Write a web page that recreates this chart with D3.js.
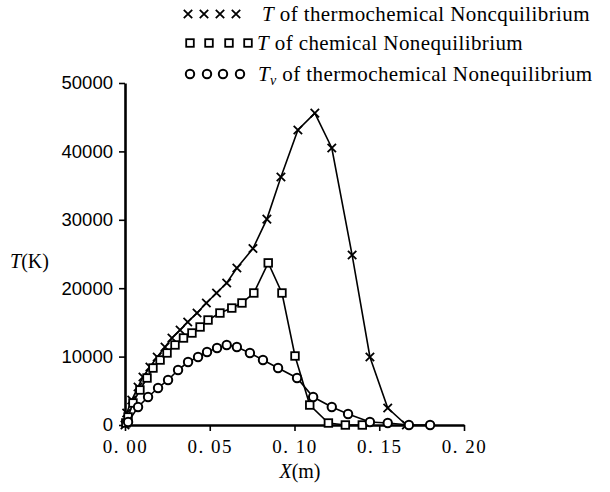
<!DOCTYPE html>
<html>
<head>
<meta charset="utf-8">
<script src="https://cdn.jsdelivr.net/npm/d3@7"></script>
<style>
  body { margin: 0; background: #fff; }
  svg { display: block; }
</style>
</head>
<body>
<svg id="chart" width="610" height="492"></svg>
<script>
// ---- data (X in m, T in K) ----
const crossX = [0.000, 0.001, 0.004, 0.0077, 0.0106, 0.0147, 0.019, 0.0236, 0.0277, 0.0325, 0.037, 0.0425, 0.048, 0.054, 0.060, 0.066, 0.0755, 0.0837, 0.092, 0.102, 0.112, 0.122, 0.134, 0.1445, 0.155, 0.166];
const crossT = [0, 1750, 3650, 5560, 7020, 8480, 9940, 11400, 12720, 13890, 15060, 16370, 17840, 19300, 20760, 22950, 25800, 30100, 36260, 43130, 45600, 40500, 24850, 9940, 2490, 0];

const squareX = [0.0005, 0.0018, 0.0047, 0.0088, 0.013, 0.0165, 0.0207, 0.0248, 0.0295, 0.0345, 0.0395, 0.0443, 0.049, 0.056, 0.063, 0.069, 0.076, 0.0845, 0.0926, 0.1003, 0.109, 0.120, 0.130, 0.140];
const squareT = [300, 1170, 3220, 5120, 6870, 8330, 9500, 10530, 11700, 12720, 13450, 14330, 15350, 16370, 17100, 17840, 19300, 23700, 19300, 10090, 2920, 290, 0, 0];

const circleX = [0.0018, 0.0077, 0.0136, 0.0195, 0.0254, 0.0313, 0.0372, 0.0431, 0.0484, 0.0543, 0.060, 0.066, 0.0737, 0.0814, 0.0903, 0.1015, 0.111, 0.122, 0.1316, 0.1445, 0.155, 0.1675, 0.180];
const circleT = [440, 2630, 4090, 5410, 6580, 8040, 9210, 9940, 10670, 11260, 11700, 11400, 10530, 9500, 8330, 6870, 4090, 2630, 1610, 440, 290, 0, 0];

const xTicks = [0, 0.05, 0.10, 0.15, 0.20];
const xTickLabels = ["0. 00", "0. 05", "0. 10", "0. 15", "0. 20"];
const yTicks = [0, 10000, 20000, 30000, 40000, 50000];
const legendLabels = [" of thermochemical Noncquilibrium", " of chemical Nonequilibrium", " of thermochemical Nonequilibrium"];

// ---- layout ----
const svg = d3.select("#chart");
const x = d3.scaleLinear().domain([0, 0.2]).range([125, 464]);
const y = d3.scaleLinear().domain([0, 50000]).range([425, 83]);

const serif = "'Liberation Serif', 'DejaVu Serif', serif";
const sans = "'Liberation Sans', Arial, sans-serif";

// axes
const yAxis = svg.append("g").attr("transform", "translate(125,0)")
  .call(d3.axisLeft(y).tickValues(yTicks).tickFormat(d3.format("d")).tickSize(6).tickSizeOuter(0).tickPadding(6));
const xAxis = svg.append("g").attr("transform", "translate(0,425)")
  .call(d3.axisBottom(x).tickValues(xTicks).tickFormat((d, i) => xTickLabels[i]).tickSize(6).tickSizeOuter(0).tickPadding(9));

[yAxis, xAxis].forEach(g => {
  g.select(".domain").attr("stroke", "#000").attr("stroke-width", 2.6);
  g.selectAll(".tick line").attr("stroke", "#000").attr("stroke-width", 1.6);
});
yAxis.selectAll(".tick text").attr("font-family", sans).attr("font-size", 18.5).attr("fill", "#000");
xAxis.selectAll(".tick text").attr("font-family", serif).attr("font-size", 19).attr("letter-spacing", 1.5).attr("fill", "#000");

// axis titles
const yt = svg.append("text").attr("x", 10).attr("y", 268).attr("font-family", serif).attr("font-size", 20).attr("fill", "#000");
yt.append("tspan").attr("font-style", "italic").text("T");
yt.append("tspan").text("(K)");
const xt = svg.append("text").attr("x", 300).attr("y", 478).attr("text-anchor", "middle").attr("font-family", serif).attr("font-size", 20).attr("fill", "#000");
xt.append("tspan").attr("font-style", "italic").text("X");
xt.append("tspan").text("(m)");

// markers
function drawMarker(g, type, cx, cy) {
  if (type === "cross") {
    const s = 4.2;
    g.append("path").attr("d", `M${cx - s},${cy - s}L${cx + s},${cy + s}M${cx - s},${cy + s}L${cx + s},${cy - s}`)
      .attr("stroke", "#000").attr("stroke-width", 1.8).attr("fill", "none");
  } else if (type === "square") {
    g.append("rect").attr("x", cx - 3.8).attr("y", cy - 3.8).attr("width", 7.6).attr("height", 7.6)
      .attr("stroke", "#000").attr("stroke-width", 1.8).attr("fill", "#fff");
  } else {
    g.append("circle").attr("cx", cx).attr("cy", cy).attr("r", 4.2)
      .attr("stroke", "#000").attr("stroke-width", 2).attr("fill", "#fff");
  }
}

const series = [
  { xs: crossX, ts: crossT, type: "cross" },
  { xs: squareX, ts: squareT, type: "square" },
  { xs: circleX, ts: circleT, type: "circle" }
];
const line = d3.line().x(d => x(d[0])).y(d => y(d[1]));

series.forEach(s => {
  const pts = s.xs.map((v, i) => [v, s.ts[i]]);
  const g = svg.append("g");
  g.append("path").attr("d", line(pts)).attr("fill", "none").attr("stroke", "#000").attr("stroke-width", 1.6);
  pts.forEach(p => drawMarker(g, s.type, x(p[0]), y(p[1])));
});

// legend
const legendRows = [
  { type: "cross", y: 14, mx: [188, 204, 220, 236], tx: 262, sub: null },
  { type: "square", y: 43, mx: [190, 209, 229, 248], tx: 257, sub: null },
  { type: "circle", y: 74, mx: [190, 207, 223, 240], tx: 258, sub: "v" }
];
legendRows.forEach((r, i) => {
  const g = svg.append("g");
  r.mx.forEach(mx => drawMarker(g, r.type, mx, r.y));
  const t = g.append("text").attr("x", r.tx).attr("y", r.y + 7).attr("font-family", serif).attr("font-size", 21).attr("letter-spacing", 0.4).attr("fill", "#000");
  t.append("tspan").attr("font-style", "italic").text("T");
  if (r.sub) t.append("tspan").attr("font-style", "italic").attr("font-size", 14).attr("dy", 4).text(r.sub);
  t.append("tspan").attr("dy", r.sub ? -4 : 0).text(legendLabels[i]);
});
</script>
</body>
</html>
